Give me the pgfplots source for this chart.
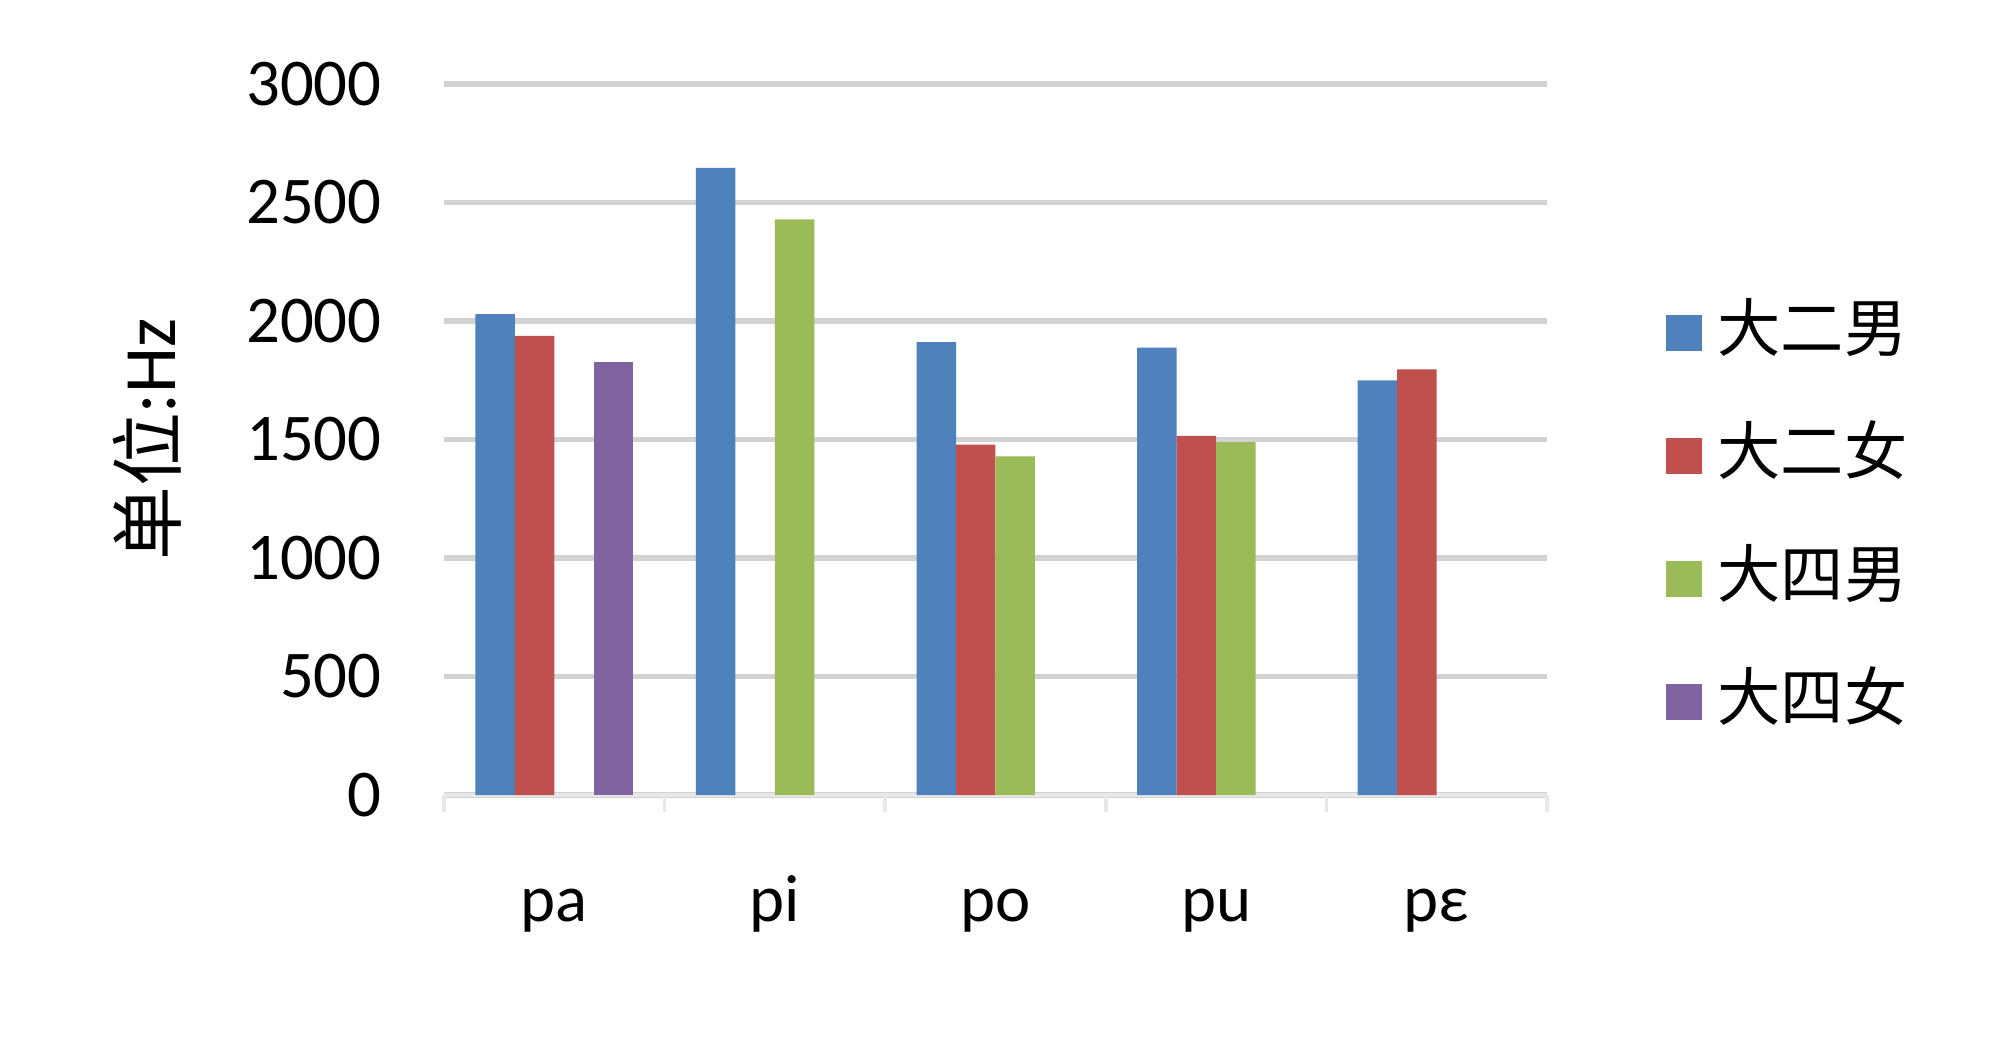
\documentclass[border=0pt]{standalone}
\usepackage{pgfplots}
\pgfplotsset{compat=1.18}
\usepackage{fontspec}
\setmainfont{Carlito}
\newfontfamily\cjk{Noto Sans CJK SC}
\definecolor{c1}{RGB}{79,129,189}
\definecolor{c2}{RGB}{192,80,77}
\definecolor{c3}{RGB}{155,187,89}
\definecolor{c4}{RGB}{128,100,162}
\definecolor{gridgray}{RGB}{210,210,210}
\begin{document}
\begin{tikzpicture}
\useasboundingbox (0,0) rectangle (20cm,10.36cm);
\begin{axis}[
    at={(4.44cm,2.41cm)}, anchor=south west,
    scale only axis, width=11.03cm, height=7.11cm,
    xmin=-0.5, xmax=4.5, ymin=0, ymax=3000,
    xtick={0,...,4}, xticklabels={pa,pi,po,pu,pε},
    minor xtick={-0.5,0.5,...,4.5},
    ytick={0,500,...,3000},
    axis x line*=bottom, axis y line*=left,
    x axis line style={-, draw=gridgray!50, line width=1pt},
    y axis line style={draw=none},
    ytick style={draw=none},
    major tick length=0pt,
    minor tick length=0.17cm,
    tick align=outside,
    minor x tick style={draw=gridgray!50, line width=1pt},
    ymajorgrids,
    major grid style={draw=gridgray, line width=1.5pt},
    tick label style={font=\fontsize{19}{21}\selectfont},
    /pgf/number format/assume math mode=true,
    /pgf/number format/1000 sep={},
    yticklabel style={xshift=-0.5cm},
    xticklabel style={anchor=base, yshift=-1.26cm},
    ylabel={{\cjk 单位}:Hz},
    ylabel style={at={(axis description cs:-0.269,0.5)}, anchor=center, font=\fontsize{21}{23}\selectfont},
    ybar=0pt, bar width=0.179,
    legend style={at={(1.107,0.39)}, anchor=west, draw=none, fill=none, inner sep=0pt,
        font=\fontsize{18}{20}\selectfont\cjk, row sep=0.6cm,
        nodes={inner sep=0pt, text height=0.5cm, text depth=0.13cm}},
    legend cell align=left,
    /tikz/every odd column/.append style={column sep=0.16cm},
    legend image code/.code={\fill[#1] (0cm,-0.18cm) rectangle (0.36cm,0.18cm);},
]
% 大二男
\addplot[fill=c1, draw=none, bar shift=-0.2685] coordinates {(0,2029) (1,2646) (2,1911) (3,1888) (4,1749)};
\addlegendentry{大二男}
% 大二女
\addplot[fill=c2, draw=none, bar shift=-0.0895] coordinates {(0,1937) (2,1478) (3,1515) (4,1796)};
\addlegendentry{大二女}
% 大四男
\addplot[fill=c3, draw=none, bar shift=0.0895] coordinates {(1,2429) (2,1429) (3,1489)};
\addlegendentry{大四男}
% 大四女
\addplot[fill=c4, draw=none, bar shift=0.2685] coordinates {(0,1829)};
\addlegendentry{大四女}
\end{axis}
\end{tikzpicture}
\end{document}
